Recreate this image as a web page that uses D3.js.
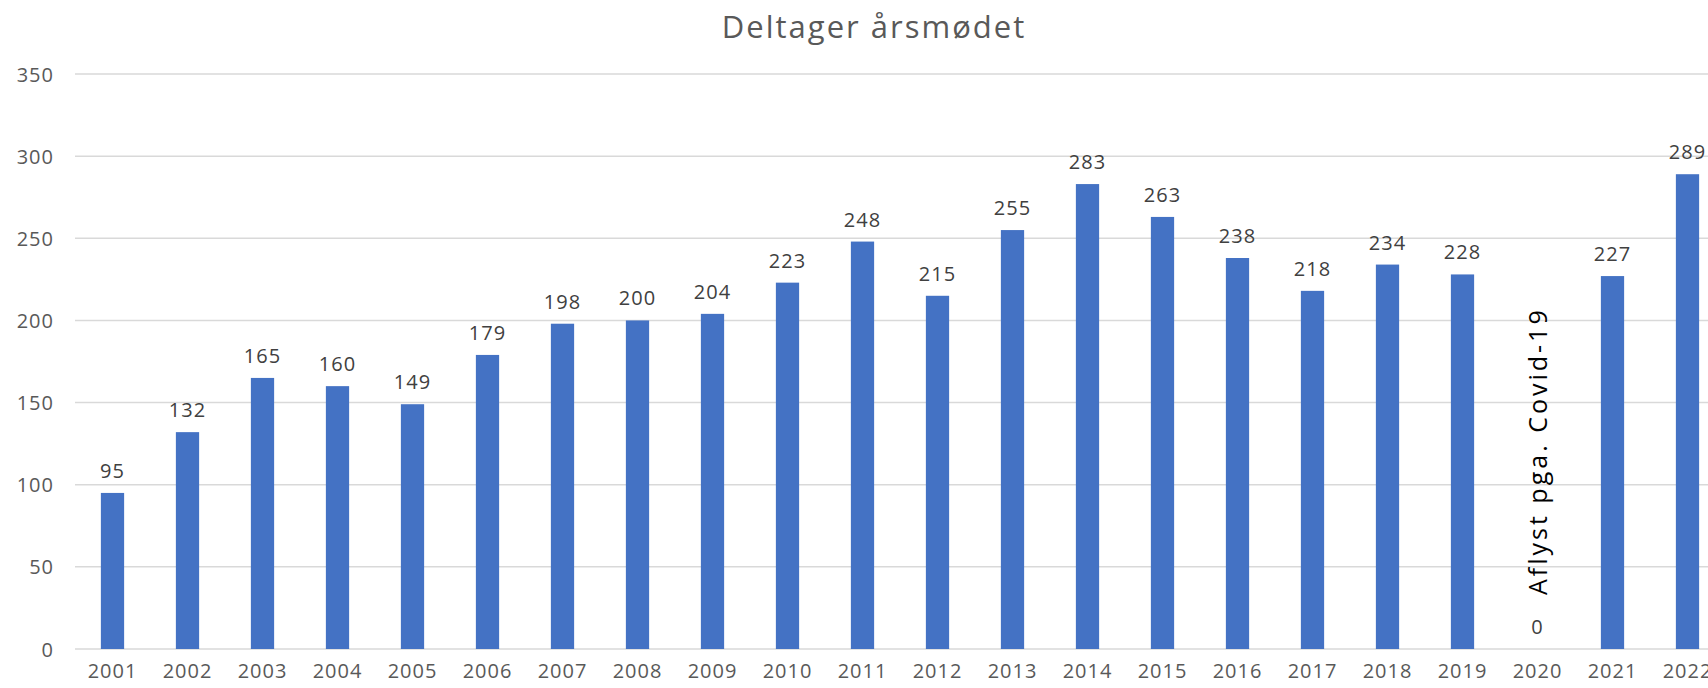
<!DOCTYPE html>
<html>
<head>
<meta charset="utf-8">
<script src="https://cdn.jsdelivr.net/npm/d3@7"></script>
<style>
  html, body { margin: 0; padding: 0; background: #fff; overflow: hidden; }
  svg { display: block; font-family: "Open Sans", sans-serif; }
</style>
</head>
<body>
<svg id="chart" width="1708" height="688"></svg>
<script>
const years = ["2001","2002","2003","2004","2005","2006","2007","2008","2009","2010","2011",
               "2012","2013","2014","2015","2016","2017","2018","2019","2020","2021","2022"];
const participants = [95,132,165,160,149,179,198,200,204,223,248,215,255,283,263,238,218,234,228,0,227,289];
const yTicks = [0,50,100,150,200,250,300,350];
const title = "Deltager årsmødet";
const noteYear = "2020";
const noteText = "Aflyst pga. Covid-19";

const svg = d3.select("#chart");

const x = d3.scaleBand().domain(years).range([75, 1725]).paddingInner(0.69).paddingOuter(0.345);
const y = d3.scaleLinear().domain([0, 350]).range([649, 74]);

// gridlines
svg.append("g")
  .attr("class", "grid")
  .selectAll("line")
  .data(yTicks)
  .join("line")
  .attr("x1", 75).attr("x2", 1725)
  .attr("y1", d => y(d)).attr("y2", d => y(d))
  .attr("stroke", "#d9d9d9").attr("stroke-width", 1.5);

// y axis labels
const yAxis = d3.axisLeft(y).tickValues(yTicks).tickSize(0).tickPadding(0);
const gy = svg.append("g").attr("transform", "translate(54,0)").call(yAxis);
gy.select(".domain").remove();
gy.selectAll("text").attr("font-size", 20).attr("fill", "#595959")
  .attr("font-family", "'Open Sans', sans-serif").attr("dy", "0.35em").attr("letter-spacing", 1);

// x axis labels
const xAxis = d3.axisBottom(x).tickSize(0).tickPadding(0);
const gx = svg.append("g").attr("transform", "translate(0,664)").call(xAxis);
gx.select(".domain").remove();
gx.selectAll("text").attr("font-size", 20).attr("fill", "#595959")
  .attr("font-family", "'Open Sans', sans-serif").attr("dy", "0.71em").attr("letter-spacing", 1);

// bars
svg.append("g")
  .selectAll("rect")
  .data(years.map((yr, i) => ({yr, v: participants[i]})))
  .join("rect")
  .attr("x", d => x(d.yr))
  .attr("width", x.bandwidth())
  .attr("y", d => y(d.v))
  .attr("height", d => y(0) - y(d.v))
  .attr("fill", "#4472C4");

// value labels
svg.append("g")
  .selectAll("text")
  .data(years.map((yr, i) => ({yr, v: participants[i]})))
  .join("text")
  .attr("x", d => x(d.yr) + x.bandwidth() / 2)
  .attr("y", d => y(d.v) - 15)
  .attr("text-anchor", "middle")
  .attr("font-size", 20)
  .attr("letter-spacing", 1)
  .attr("fill", "#404040")
  .text(d => d.v);

// rotated note
const nx = x(noteYear) + x.bandwidth() / 2 + 9;
svg.append("text")
  .attr("transform", `translate(${nx},${y(0) - 54}) rotate(-90)`)
  .attr("font-size", 25)
  .attr("letter-spacing", 3)
  .attr("fill", "#000")
  .text(noteText);

// title
svg.append("text")
  .attr("x", 874).attr("y", 38)
  .attr("text-anchor", "middle")
  .attr("font-size", 31)
  .attr("letter-spacing", 2)
  .attr("fill", "#595959")
  .text(title);
</script>
</body>
</html>
